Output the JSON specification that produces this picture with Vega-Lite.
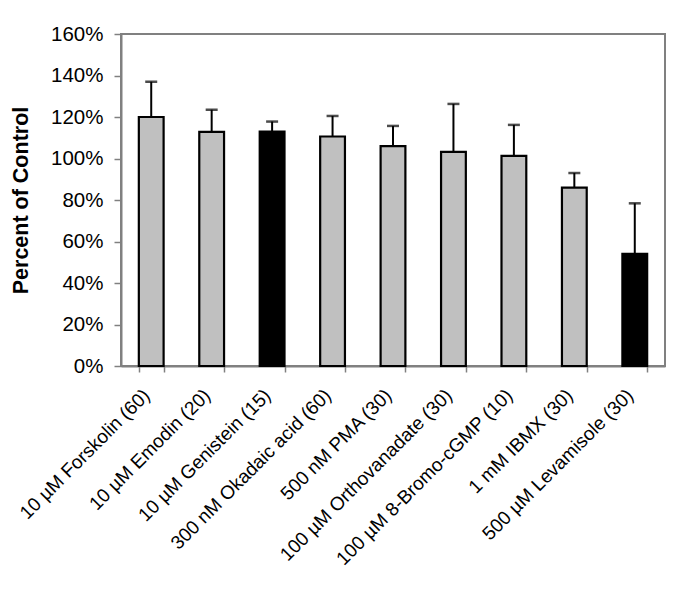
{
  "$schema": "https://vega.github.io/schema/vega-lite/v6.json",
  "autosize": "none",
  "width": 544,
  "height": 332,
  "padding": {"left": 121, "top": 34, "right": 15, "bottom": 229},
  "background": "white",
  "config": {
    "font": "Liberation Sans",
    "view": {"stroke": "#808080", "strokeWidth": 2},
    "axis": {
      "domainColor": "#808080",
      "domainWidth": 2,
      "tickColor": "#808080",
      "tickWidth": 1.5,
      "labelColor": "black",
      "titleColor": "black",
      "grid": false
    }
  },
  "data": {
    "values": [
      {"treatment": "10 µM Forskolin (60)", "mean": 120, "upper": 137, "highlight": "no"},
      {"treatment": "10 µM Emodin (20)", "mean": 112.8, "upper": 123.5, "highlight": "no"},
      {"treatment": "10 µM Genistein (15)", "mean": 113, "upper": 117.8, "highlight": "yes"},
      {"treatment": "300 nM Okadaic acid (60)", "mean": 110.6, "upper": 120.5, "highlight": "no"},
      {"treatment": "500 nM PMA (30)", "mean": 106, "upper": 115.7, "highlight": "no"},
      {"treatment": "100 µM Orthovanadate (30)", "mean": 103.2, "upper": 126.3, "highlight": "no"},
      {"treatment": "100 µM 8-Bromo-cGMP (10)", "mean": 101.3, "upper": 116.2, "highlight": "no"},
      {"treatment": "1 mM IBMX (30)", "mean": 86, "upper": 93, "highlight": "no"},
      {"treatment": "500 µM Levamisole (30)", "mean": 54, "upper": 78.4, "highlight": "yes"}
    ]
  },
  "encoding": {
    "x": {
      "field": "treatment",
      "type": "nominal",
      "sort": null,
      "scale": {"paddingInner": 0.59, "paddingOuter": 0.295},
      "axis": {
        "title": null,
        "labelAngle": -45,
        "labelAlign": "right",
        "labelBaseline": "middle",
        "labelFontSize": 19,
        "labelPadding": 20,
        "labelOffset": -5,
        "tickBand": "extent",
        "tickSize": 6,
        "labelLimit": 400
      }
    }
  },
  "layer": [
    {
      "mark": {"type": "rule", "color": "black", "strokeWidth": 2},
      "encoding": {
        "y": {"field": "mean", "type": "quantitative"},
        "y2": {"field": "upper"}
      }
    },
    {
      "mark": {"type": "tick", "color": "black", "thickness": 2.5, "size": 12},
      "encoding": {
        "y": {"field": "upper", "type": "quantitative"}
      }
    },
    {
      "mark": {"type": "bar", "stroke": "black", "strokeWidth": 2.2},
      "encoding": {
        "y": {
          "field": "mean",
          "type": "quantitative",
          "scale": {"domain": [0, 160], "nice": false},
          "axis": {
            "title": "Percent of Control",
            "titleFontSize": 21.5,
            "titleFontWeight": "bold",
            "titlePadding": 18,
            "values": [0, 20, 40, 60, 80, 100, 120, 140, 160],
            "labelExpr": "datum.value + '%'",
            "labelFontSize": 20.5,
            "labelPadding": 11,
            "tickSize": 7
          }
        },
        "color": {
          "field": "highlight",
          "type": "nominal",
          "scale": {"domain": ["no", "yes"], "range": ["#c0c0c0", "#000000"]},
          "legend": null
        }
      }
    }
  ]
}
